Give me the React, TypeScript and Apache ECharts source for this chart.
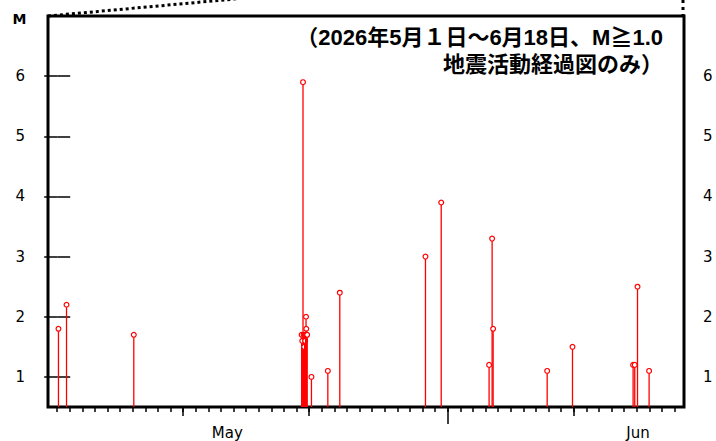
import React, { useEffect, useRef } from "react";
import * as echarts from "echarts";

// Event time in days since 2026-05-01 00:00, and magnitude
const eventDays = [
  0.10, 0.74, 6.08,
  19.40, 19.45, 19.51, 19.56, 19.60, 19.64, 19.68, 19.72, 19.75, 19.77, 19.80, 19.84,
  20.18, 21.48, 22.43, 29.23, 30.48,
  34.28, 34.52, 34.60, 38.89, 40.90,
  45.71, 45.84, 46.06, 46.98,
];
const eventMags = [
  1.8, 2.2, 1.7,
  1.7, 1.6, 5.9, 1.7, 1.5, 1.7, 1.6, 1.7, 2.0, 1.8, 1.7, 1.7,
  1.0, 1.1, 2.4, 3.0, 3.9,
  1.2, 3.3, 1.8, 1.1, 1.5,
  1.2, 1.2, 2.5, 1.1,
];

const dayTicks = Array.from({ length: 50 }, (_, i) => i); // May 1 .. Jun 19
const tenDayTicks = [10, 20, 41];
const monthTicks = [31];
const monthLabelPos = [13.5, 46.1];
const monthLabels = ["May", "Jun"];
const magTicks = [1, 2, 3, 4, 5, 6];

const titleLine1 = "（2026年5月１日～6月18日、M≧1.0";
const titleLine2 = "地震活動経過図のみ）";

export default function App() {
  const ref = useRef<HTMLDivElement>(null);
  useEffect(() => {
    if (!ref.current) return;
    const chart = echarts.init(ref.current, null, { renderer: "svg" });
    const xMin = -0.73;
    const xMax = 49.75;
    const tickStyle = { color: "#000", width: 1.5 };
    const labelFont = { fontFamily: "DejaVu Sans", fontSize: 15, color: "#000" };
    const titleFont = {
      fontFamily: '"Liberation Sans", "Noto Sans CJK JP"',
      fontSize: 22,
      fontWeight: "bold",
      fill: "#000",
      align: "right",
      verticalAlign: "middle",
    };
    const baseX = {
      type: "value",
      min: xMin,
      max: xMax,
      position: "bottom",
      axisLine: { show: false },
      splitLine: { show: false },
    };
    chart.setOption({
      animation: false,
      grid: {
        left: 48,
        right: 32,
        top: 16,
        bottom: 34,
        show: true,
        borderColor: "#000",
        borderWidth: 3,
        backgroundColor: "transparent",
      },
      xAxis: [
        {
          ...baseX,
          axisTick: { show: true, length: 5, customValues: dayTicks, lineStyle: tickStyle },
          axisLabel: {
            show: true,
            customValues: monthLabelPos,
            margin: 18,
            lineHeight: 15,
            ...labelFont,
            formatter: (v: number) => monthLabels[monthLabelPos.indexOf(v)] ?? (v < 30 ? "May" : "Jun"),
          },
        },
        {
          ...baseX,
          axisTick: { show: true, length: 9, customValues: tenDayTicks, lineStyle: tickStyle },
          axisLabel: { show: false },
        },
        {
          ...baseX,
          axisTick: { show: true, length: 17, customValues: monthTicks, lineStyle: tickStyle },
          axisLabel: { show: false },
        },
      ],
      yAxis: [
        {
          type: "value",
          min: 0.5,
          max: 7.0,
          position: "left",
          axisLine: { show: false },
          splitLine: { show: false },
          axisTick: { show: true, length: 13, customValues: magTicks, lineStyle: tickStyle },
          axisLabel: { show: true, customValues: magTicks, margin: 23, ...labelFont },
        },
        {
          type: "value",
          min: 0.5,
          max: 7.0,
          position: "right",
          axisLine: { show: false },
          splitLine: { show: false },
          axisTick: { show: true, length: 13, customValues: magTicks, lineStyle: tickStyle },
          axisLabel: { show: true, customValues: magTicks, margin: 19, ...labelFont },
        },
      ],
      series: [
        {
          type: "custom",
          xAxisIndex: 0,
          yAxisIndex: 0,
          clip: false,
          data: eventDays.map((d, i) => [d, eventMags[i]]),
          renderItem: (params: any, api: any) => {
            const x = api.value(0);
            const m = api.value(1);
            const top = api.coord([x, m]);
            const bottom = api.coord([x, 0.5]);
            const r = 2.4;
            return {
              type: "group",
              children: [
                {
                  type: "line",
                  shape: { x1: top[0], y1: bottom[1], x2: top[0], y2: top[1] + r },
                  style: { stroke: "#ff0000", lineWidth: 1.3 },
                },
                {
                  type: "circle",
                  shape: { cx: top[0], cy: top[1], r },
                  style: { stroke: "#ff0000", fill: "#ffffff", lineWidth: 1.2 },
                },
              ],
            };
          },
        },
      ],
      graphic: [
        {
          type: "line",
          shape: { x1: 48, y1: 16, x2: 262, y2: -3.5 },
          style: { stroke: "#000", lineWidth: 3, lineDash: [3, 3] },
          silent: true,
        },
        {
          type: "line",
          shape: { x1: 683, y1: 0, x2: 683, y2: 15 },
          style: { stroke: "#000", lineWidth: 3, lineDash: [3, 4] },
          silent: true,
        },
        {
          type: "text",
          x: 19.5,
          y: 18.5,
          style: {
            text: "M",
            align: "center",
            verticalAlign: "middle",
            fontFamily: "DejaVu Sans",
            fontSize: 14,
            fontWeight: "bold",
            fill: "#000",
          },
        },
        {
          type: "text",
          x: 663,
          y: 37,
          style: { text: titleLine1, ...titleFont },
        },
        {
          type: "text",
          x: 663,
          y: 64.5,
          style: { text: titleLine2, ...titleFont },
        },
      ],
    });
    return () => chart.dispose();
  }, []);
  return (
    <div
      ref={ref}
      style={{ position: "absolute", left: 0, top: 0, width: 716, height: 441, background: "#fff" }}
    />
  );
}
